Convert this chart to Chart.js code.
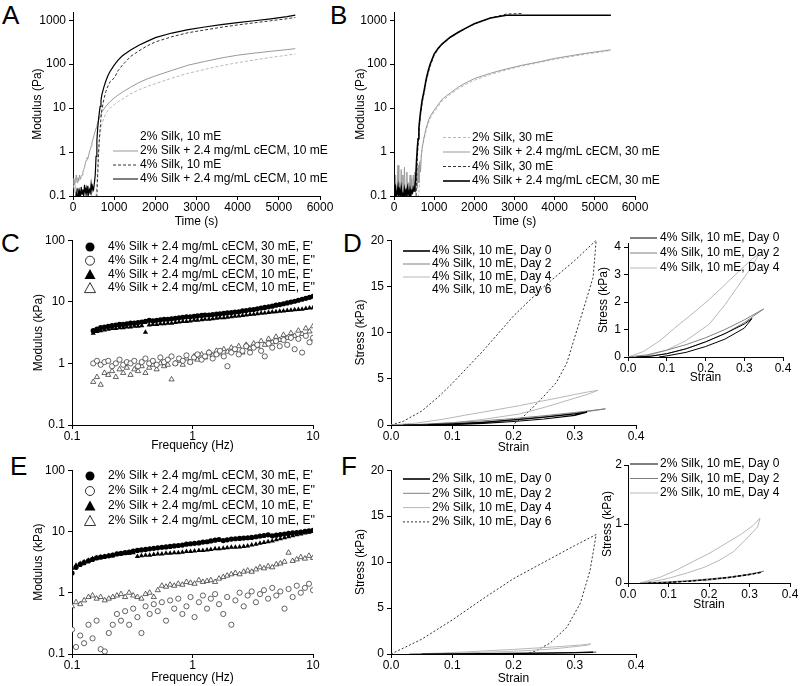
<!DOCTYPE html>
<html>
<head>
<meta charset="utf-8">
<script src="https://cdn.jsdelivr.net/npm/chart.js@4.4.1/dist/chart.umd.min.js"></script>
<style>
  body { margin: 0; background: #fff; width: 800px; height: 686px; position: relative; overflow: hidden;
         font-family: "Liberation Sans", Arial, sans-serif; }
  canvas { position: absolute; }
  .tag { position: absolute; font-size: 26px; line-height: 26px; color: #000; }
</style>
</head>
<body>
<div class="tag" style="left:2px;top:2px">A</div>
<div class="tag" style="left:330px;top:2px">B</div>
<div class="tag" style="left:1px;top:230px">C</div>
<div class="tag" style="left:343px;top:230px">D</div>
<div class="tag" style="left:10px;top:453px">E</div>
<div class="tag" style="left:341px;top:453px">F</div>

<canvas id="chartA"></canvas>
<canvas id="chartB"></canvas>
<canvas id="chartC"></canvas>
<canvas id="chartD"></canvas>
<canvas id="chartE"></canvas>
<canvas id="chartF"></canvas>
<canvas id="insetD"></canvas>
<canvas id="insetF"></canvas>

<script>
// ---- time sweeps (A, B), time in s, modulus in Pa ----
const tGrid = [0,20,40,60,80,100,120,140,160,180,200,220,240,260,280,300,320,340,360,380,400,420,440,460,480,500,520,540,560,580,600,620,640,660,680,700,
  750,800,850,900,1000,1100,1200,1400,1600,1800,2000,2400,2800,3200,3600,4000,4400,4800,5200,5400];

const aSilk2 = [0.15,0.2,0.12,0.18,0.1,0.16,0.08,0.05,0.05,0.05,0.05,0.05,0.05,0.05,0.05,0.05,0.05,0.05,0.05,0.05,0.05,0.05,0.05,0.05,0.05,0.05,0.05,0.05,
  0.1,0.2,0.5,1,1.8,2.6,3.4,4.2,
  6,7.5,9,10,12,14,16,21,26,31,36,48,62,76,92,108,124,142,160,170];
const aSilk2Ecm = [0.2,0.25,0.18,0.22,0.3,0.2,0.26,0.22,0.3,0.24,0.28,0.3,0.35,0.4,0.45,0.55,0.65,0.75,0.7,0.85,1.0,1.15,1.35,1.6,1.9,2.2,2.6,3.0,3.5,4.0,4.6,5.2,5.9,6.6,7.4,8.2,
  9.5,11,12.5,14,17,20,23,30,38,46,54,72,95,115,138,160,178,196,214,225];
const aSilk4 = [0.05,0.05,0.05,0.05,0.05,0.05,0.05,0.05,0.05,0.05,0.05,0.05,0.05,0.05,0.05,0.05,0.05,0.05,0.05,0.05,0.05,0.05,0.05,0.05,0.05,0.05,0.05,0.05,0.05,
  0.1,0.3,0.9,2,3.5,6,9,
  16,24,32,40,48,72,95,150,200,260,320,420,520,600,690,780,870,970,1080,1150];
const aSilk4Ecm = [0.06,0.07,0.06,0.08,0.12,0.09,0.15,0.1,0.13,0.09,0.16,0.11,0.14,0.1,0.18,0.12,0.15,0.1,0.17,0.11,0.14,0.12,0.19,0.13,0.16,0.14,0.2,0.3,0.8,1.8,3.5,5.5,8,11,15,20,
  30,42,55,68,95,125,155,210,270,330,400,510,610,700,790,880,970,1070,1200,1300];

const bSilk2 = [0.05,0.05,0.05,0.05,0.05,0.05,0.05,0.05,0.05,0.05,0.05,0.05,0.05,0.05,0.05,0.05,0.05,0.05,0.05,0.05,0.05,0.05,0.05,0.05,0.05,0.05,0.05,0.05,0.05,0.05,
  0.08,0.12,0.3,0.6,0.9,1.3,
  2.0,3.1,4.4,5.8,8.2,11,14.5,20.5,27.5,35,43,58,74,91,108,128,148,170,192,205];
const bSilk2Ecm = [0.12,0.08,0.3,0.1,0.15,0.5,0.12,0.2,0.1,0.4,0.12,0.3,0.11,0.45,0.1,0.15,0.35,0.1,0.2,0.12,0.3,0.1,0.25,0.12,0.3,0.15,0.35,0.12,0.4,0.15,0.5,0.2,0.6,0.35,0.8,1.2,
  2.2,3.5,5,6.5,9,12,16,22,30,38,47,62,78,95,112,135,155,178,200,212];
const bSilk4 = [0.05,0.05,0.05,0.05,0.05,0.05,0.05,0.05,0.05,0.05,0.05,0.05,0.05,0.05,0.05,0.05,0.05,0.05,0.05,0.05,0.05,0.05,0.05,0.05,0.05,0.05,0.05,0.05,
  0.2,0.7,1.5,2.8,4.5,7,10,13,
  22,40,62,90,160,220,280,400,520,660,820,1120,1380,1420,null,null,null,null,null,null];
const bSilk4Ecm = [0.18,0.1,0.14,0.09,0.12,0.16,0.1,0.13,0.11,0.15,0.1,0.12,0.09,0.14,0.11,0.13,0.1,0.15,0.12,0.1,0.14,0.11,0.13,0.12,0.15,0.13,0.17,0.25,0.6,1.2,2,3.5,5.5,8,11,15,
  25,45,70,100,170,230,290,410,530,670,830,1120,1300,1300,1300,1300,1300,1300,1300,1300];

// ---- frequency sweeps (C, E), frequency in Hz, modulus in kPa ----
const fC = [0.15,0.161,0.173,0.186,0.2,0.215,0.231,0.248,0.266,0.285,0.306,0.329,0.353,0.379,0.407,0.437,0.469,0.504,0.541,0.581,
  0.624,0.67,0.72,0.773,0.83,0.891,0.957,1.03,1.1,1.19,1.27,1.37,1.47,1.58,1.69,1.82,1.95,2.1,2.25,2.42,
  2.6,2.79,3.0,3.22,3.45,3.71,3.98,4.28,4.59,4.93,5.3,5.69,6.11,6.56,7.04,7.56,8.12,8.72,9.36,10.0];
const cStor30 = [3.4,3.6,3.8,3.9,4.0,4.1,4.2,4.3,4.3,4.4,4.5,4.5,4.6,4.7,4.8,5.0,4.9,5.0,5.1,5.2,
  5.2,5.3,5.4,5.5,5.6,5.7,5.7,5.8,5.9,6.0,6.1,6.1,6.2,6.3,6.4,6.5,6.6,6.7,6.8,6.9,
  7.1,7.2,7.4,7.5,7.7,7.9,8.1,8.3,8.5,8.8,9.0,9.3,9.6,9.9,10.2,10.6,11.0,11.4,11.8,12.3];
const cLoss30 = [1.0,1.1,0.95,1.05,1.1,0.9,1.0,1.15,0.95,1.05,1.0,1.1,0.9,1.05,1.2,1.0,1.1,0.95,1.25,1.05,
  1.15,1.3,1.0,1.2,1.1,1.35,1.05,1.25,1.4,1.15,1.3,1.5,1.2,1.4,1.6,1.3,0.9,1.5,1.7,1.4,
  1.6,1.9,1.5,1.8,2.0,1.6,1.3,2.1,1.8,2.3,1.9,2.4,2.0,2.6,1.7,2.5,1.5,2.8,2.2,2.6];
const cStor10 = [3.1,3.3,3.4,3.5,3.6,3.7,3.7,3.8,3.8,3.9,3.9,4.0,4.0,4.1,3.2,4.2,4.3,4.3,4.4,4.4,
  4.5,4.5,4.6,4.7,4.8,4.8,4.9,5.0,5.0,5.1,5.2,5.2,5.3,5.4,5.5,5.5,5.6,5.7,5.8,5.9,
  6.0,6.1,6.2,6.3,6.4,6.5,6.6,6.7,6.8,6.9,7.0,7.1,7.2,7.3,7.4,7.5,7.6,7.8,7.9,8.0];
const cLoss10 = [0.5,0.6,0.45,0.7,0.65,0.75,0.6,0.8,0.7,0.85,0.65,0.8,0.75,0.9,0.7,0.85,0.95,0.8,1.0,0.9,
  0.95,0.55,1.0,1.1,0.95,1.2,1.05,1.3,1.15,1.4,1.25,1.5,1.35,1.6,1.45,1.7,1.55,1.8,1.65,1.9,
  1.5,2.0,1.75,2.1,1.9,2.3,2.0,2.5,2.2,2.7,2.4,2.9,2.6,3.1,2.8,3.4,3.0,3.7,3.3,4.0];

const fE = [0.1,0.108,0.117,0.126,0.137,0.148,0.16,0.173,0.187,0.202,0.218,0.236,0.255,0.276,0.298,0.322,0.349,0.377,0.408,0.441,
  0.477,0.515,0.557,0.603,0.652,0.705,0.762,0.824,0.891,0.963,1.04,1.13,1.22,1.32,1.42,1.54,1.66,1.8,1.94,2.1,
  2.27,2.46,2.66,2.87,3.1,3.36,3.63,3.92,4.24,4.59,4.96,5.36,5.8,6.27,6.78,7.33,7.92,8.57,9.26,10.0];
const eStor30 = [2.1,2.6,2.9,3.1,3.3,3.5,3.7,3.8,3.9,4.0,4.1,4.3,4.4,4.5,4.6,4.8,4.9,5.0,5.1,5.2,
  5.3,5.4,5.5,5.6,5.7,5.8,5.9,6.0,6.2,6.3,6.4,6.5,6.7,6.8,7.0,7.2,7.4,7.1,7.3,7.5,
  7.6,7.7,7.8,7.9,8.0,8.2,8.4,8.6,8.8,8.5,8.7,8.9,9.1,9.3,9.5,9.6,9.8,10.0,10.2,10.4];
const eLoss30 = [0.25,0.13,0.2,0.15,0.3,0.18,0.35,0.12,0.11,0.22,0.3,0.45,0.35,0.5,0.3,0.55,0.4,0.22,0.6,0.45,
  0.65,0.5,0.7,0.35,0.75,0.55,0.8,0.45,0.6,0.85,0.4,0.7,0.9,0.55,0.8,0.95,0.65,0.45,0.85,0.3,
  0.75,1.0,0.6,0.9,1.05,0.7,0.95,1.1,0.8,1.2,0.9,1.05,0.55,1.15,0.85,1.3,1.0,1.2,1.4,1.1];
const eStor10 = [2.5,2.8,3.0,3.2,3.4,3.6,3.7,3.8,3.9,4.0,4.1,4.2,4.3,4.4,4.4,4.5,3.9,4.0,4.1,4.1,
  4.2,4.3,4.3,4.4,4.4,4.5,4.5,4.6,4.7,4.7,4.8,4.9,4.9,5.0,5.1,5.2,5.2,5.3,5.4,5.5,
  5.5,5.6,5.7,5.8,6.0,6.2,6.4,6.6,6.8,7.0,7.3,7.6,7.9,8.2,8.5,8.8,9.1,9.4,9.7,10.0];
const eLoss10 = [0.6,0.7,0.65,0.75,0.85,0.9,0.8,0.85,0.75,0.8,0.85,0.9,0.95,0.85,1.0,0.9,0.85,0.8,0.95,1.0,
  0.85,1.1,1.3,1.25,1.35,1.3,1.4,1.35,1.5,1.45,1.4,1.6,1.5,1.55,1.6,1.5,1.7,1.8,1.9,2.0,
  2.1,2.0,2.2,2.3,2.2,2.4,2.6,2.5,2.7,2.6,2.9,3.0,3.2,4.5,3.3,3.5,3.8,3.6,4.0,3.7];

// ---- compression loops (D, F), strain and stress in kPa ----
const dDay0Strain = [0.02,0.06,0.1,0.15,0.2,0.25,0.3,0.32,0.3,0.25,0.2,0.15,0.1,0.08];
const dDay0Stress = [0,0.03,0.12,0.3,0.55,0.85,1.2,1.4,1.05,0.65,0.38,0.17,0.04,0];
const dDay2Strain = [0,0.05,0.1,0.15,0.2,0.25,0.3,0.35,0.32,0.3,0.25,0.2,0.15,0.1,0.05,0.02];
const dDay2Stress = [0,0.08,0.25,0.45,0.7,1.0,1.35,1.75,1.45,1.25,0.85,0.55,0.3,0.12,0.02,0];
const dDay4Strain = [0,0.04,0.083,0.12,0.168,0.21,0.255,0.3,0.323,0.338,0.32,0.28,0.25,0.21,0.15,0.1,0.06,0.03];
const dDay4Stress = [0,0.2,0.6,1.05,1.6,2.1,2.7,3.3,3.6,3.75,3.3,2.5,1.9,1.2,0.6,0.25,0.08,0];
const dDay6Strain = [0,0.02,0.05,0.08,0.1,0.15,0.2,0.25,0.3,0.335,0.33,0.32,0.3,0.287,0.27,0.248,0.23,0.216,0.2];
const dDay6Stress = [0,0.4,1.5,3.2,4.5,8,11.8,15,17.8,20,16,13.8,9.5,6.7,4.6,3.0,1.8,0.9,0.1];

const fDay0Strain = [0.05,0.1,0.15,0.2,0.25,0.3,0.33,0.3,0.25,0.2,0.15,0.1];
const fDay0Stress = [0,0.01,0.03,0.06,0.09,0.14,0.18,0.15,0.1,0.06,0.03,0.01];
const fDay2Strain = [0.03,0.1,0.15,0.2,0.25,0.3,0.335,0.3,0.25,0.2,0.15,0.1,0.05];
const fDay2Stress = [0,0.02,0.04,0.07,0.1,0.15,0.2,0.14,0.09,0.05,0.03,0.01,0];
const fDay4Strain = [0.03,0.08,0.12,0.168,0.2,0.244,0.28,0.31,0.326,0.32,0.29,0.26,0.227,0.19,0.146,0.1,0.08,0.04];
const fDay4Stress = [0,0.1,0.22,0.39,0.5,0.68,0.83,0.98,1.1,0.95,0.73,0.53,0.39,0.27,0.17,0.08,0.05,0.01];
const fDay6Strain = [0,0.05,0.1,0.15,0.2,0.25,0.3,0.335,0.325,0.309,0.287,0.26,0.235,0.22];
const fDay6Stress = [0,1.6,3.7,6.0,8.2,10.0,11.8,13.0,9.1,5.5,2.9,1.2,0.3,0];

// ---- ticks ----
const timeTicks = [0,1000,2000,3000,4000,5000,6000];
const timeLabels = ['0','1000','2000','3000','4000','5000','6000'];
const paTicks = [0.1,1,10,100,1000];
const paLabels = ['0.1','1','10','100','1000'];
const hzTicks = [0.1,1,10];
const hzLabels = ['0.1','1','10'];
const kpaTicks = [0.1,1,10,100];
const kpaLabels = ['0.1','1','10','100'];
const strainTicks = [0,0.1,0.2,0.3,0.4];
const strainLabels = ['0.0','0.1','0.2','0.3','0.4'];
const stressTicks = [0,5,10,15,20];
const stressLabels = ['0','5','10','15','20'];
const insetDTicks = [0,1,2,3,4];
const insetDLabels = ['0','1','2','3','4'];
const insetFTicks = [0,1,2];
const insetFLabels = ['0','1','2'];

// ---- legend texts ----
const namesA = ['2% Silk, 10 mE','2% Silk + 2.4 mg/mL cECM, 10 mE','4% Silk, 10 mE','4% Silk + 2.4 mg/mL cECM, 10 mE'];
const namesB = ['2% Silk, 30 mE','2% Silk + 2.4 mg/mL cECM, 30 mE','4% Silk, 30 mE','4% Silk + 2.4 mg/mL cECM, 30 mE'];
const namesC = ["4% Silk + 2.4 mg/mL cECM, 30 mE, E'","4% Silk + 2.4 mg/mL cECM, 30 mE, E''","4% Silk + 2.4 mg/mL cECM, 10 mE, E'","4% Silk + 2.4 mg/mL cECM, 10 mE, E''"];
const namesE = ["2% Silk + 2.4 mg/mL cECM, 30 mE, E'","2% Silk + 2.4 mg/mL cECM, 30 mE, E''","2% Silk + 2.4 mg/mL cECM, 10 mE, E'","2% Silk + 2.4 mg/mL cECM, 10 mE, E''"];
const namesD = ['4% Silk, 10 mE, Day 0','4% Silk, 10 mE, Day 2','4% Silk, 10 mE, Day 4','4% Silk, 10 mE, Day 6'];
const namesF = ['2% Silk, 10 mE, Day 0','2% Silk, 10 mE, Day 2','2% Silk, 10 mE, Day 4','2% Silk, 10 mE, Day 6'];

const BLACK = '#000', DARK = '#333', GRAY = '#808080', MID = '#999', LIGHT = '#b8b8b8';
const FONT = '"Liberation Sans", Arial, sans-serif';

Chart.defaults.font.family = FONT;
Chart.defaults.font.size = 12;
Chart.defaults.color = '#000';

function pts(xs, ys) {
  const out = [];
  xs.forEach((x, i) => { if (ys[i] != null) out.push({ x: x, y: ys[i] }); });
  return out;
}

function line(xs, ys, color, width, dash) {
  return { data: pts(xs, ys), showLine: true, borderColor: color, borderWidth: width,
           borderDash: dash || [], pointRadius: 0, fill: false, tension: 0 };
}

function dots(xs, ys, style, filled) {
  return { data: pts(xs, ys), showLine: false, pointStyle: style,
           pointRadius: style === 'triangle' ? 3 : 2.6,
           backgroundColor: filled ? '#000' : '#fff', borderColor: '#222', borderWidth: filled ? 0 : 0.7 };
}

function axis(type, min, max, values, labels, title, pad) {
  return {
    type: type, min: min, max: max,
    afterBuildTicks: s => { s.ticks = values.map(v => ({ value: v })); },
    ticks: { callback: (v, i) => labels[i], autoSkip: false, maxRotation: 0, padding: pad,
             color: '#000', font: { size: 12 } },
    grid: { drawOnChartArea: false, drawTicks: true, tickLength: 4, color: '#000' },
    border: { color: '#000', width: 1 },
    title: { display: true, text: title, padding: 0, color: '#000', font: { size: 12 } }
  };
}

function drawMarker(ctx, style, filled, x, y) {
  ctx.beginPath();
  if (style === 'circle') {
    ctx.arc(x, y, 4.5, 0, Math.PI * 2);
  } else {
    ctx.moveTo(x, y - 5.5); ctx.lineTo(x + 5.5, y + 4.5); ctx.lineTo(x - 5.5, y + 4.5); ctx.closePath();
  }
  if (filled) { ctx.fillStyle = '#000'; ctx.fill(); }
  else { ctx.fillStyle = '#fff'; ctx.fill(); ctx.strokeStyle = '#000'; ctx.lineWidth = 0.8; ctx.stroke(); }
}

// legend drawn at page coordinates, shifted into the canvas
function legendPlugin(spec, ox, oy) {
  return {
    id: 'boxLegend',
    afterDraw(chart) {
      const ctx = chart.ctx;
      ctx.save();
      ctx.font = '12px ' + FONT;
      ctx.textBaseline = 'middle';
      spec.items.forEach((it, i) => {
        const y = spec.y + i * spec.dy - oy;
        if (it.color) {
          ctx.beginPath();
          ctx.strokeStyle = it.color; ctx.lineWidth = it.width || 1;
          ctx.setLineDash(it.dash || []);
          ctx.moveTo(spec.x1 - ox, y); ctx.lineTo(spec.x2 - ox, y); ctx.stroke();
          ctx.setLineDash([]);
        }
        if (it.marker) drawMarker(ctx, it.marker, it.filled, spec.mx - ox, y);
        ctx.fillStyle = '#000';
        ctx.fillText(it.text, spec.tx - ox, y);
      });
      ctx.restore();
    }
  };
}

function panel(id, area, pad, xAxis, yAxis, datasets, legend) {
  const cv = document.getElementById(id);
  const left = area.l - pad.l, top = area.t - pad.t;
  const w = area.r - area.l + pad.l + pad.r, h = area.b - area.t + pad.t + pad.b;
  cv.style.left = left + 'px'; cv.style.top = top + 'px';
  cv.width = w; cv.height = h; cv.style.width = w + 'px'; cv.style.height = h + 'px';
  xAxis.afterFit = s => { s.height = pad.b; };
  yAxis.afterFit = s => { s.width = pad.l; };
  new Chart(cv, {
    type: 'scatter',
    data: { datasets: datasets },
    options: {
      responsive: false, animation: false, events: [], devicePixelRatio: 1,
      layout: { padding: { top: pad.t, right: pad.r, left: 0, bottom: 0 } },
      plugins: { legend: { display: false }, tooltip: { enabled: false } },
      scales: { x: xAxis, y: yAxis }
    },
    plugins: [legendPlugin(legend, left, top)]
  });
}

// A
panel('chartA', { l: 73, t: 12, r: 320, b: 196 }, { l: 43, t: 10, r: 20, b: 33 },
  axis('linear', 0, 6000, timeTicks, timeLabels, 'Time (s)', 0),
  axis('logarithmic', 0.1, 1520, paTicks, paLabels, 'Modulus (Pa)', 3),
  [ line(tGrid, aSilk4Ecm, BLACK, 1.2),
    line(tGrid, aSilk4, DARK, 1, [3, 2]),
    line(tGrid, aSilk2Ecm, MID, 1),
    line(tGrid, aSilk2, LIGHT, 1, [3, 2]) ],
  { x1: 113, x2: 138, tx: 140, y: 137, dy: 14, items: [
    { text: namesA[0] },
    { text: namesA[1], color: MID },
    { text: namesA[2], color: DARK, dash: [3, 2] },
    { text: namesA[3], color: BLACK } ] });

// B
panel('chartB', { l: 394, t: 12, r: 635, b: 196 }, { l: 41, t: 10, r: 45, b: 33 },
  axis('linear', 0, 6000, timeTicks, timeLabels, 'Time (s)', 0),
  axis('logarithmic', 0.1, 1520, paTicks, paLabels, 'Modulus (Pa)', 3),
  [ line(tGrid, bSilk4Ecm, BLACK, 1.6),
    line(tGrid, bSilk4, DARK, 1, [3, 2]),
    line(tGrid, bSilk2Ecm, MID, 1),
    line(tGrid, bSilk2, LIGHT, 1, [3, 2]) ],
  { x1: 443, x2: 470, tx: 472, y: 137.5, dy: 14.5, items: [
    { text: namesB[0], color: LIGHT, dash: [3, 2] },
    { text: namesB[1], color: MID },
    { text: namesB[2], color: DARK, dash: [3, 2] },
    { text: namesB[3], color: BLACK, width: 1.6 } ] });

// C
panel('chartC', { l: 72, t: 240, r: 313, b: 425 }, { l: 41, t: 10, r: 20, b: 28 },
  axis('logarithmic', 0.1, 10, hzTicks, hzLabels, 'Frequency (Hz)', 0),
  axis('logarithmic', 0.1, 100, kpaTicks, kpaLabels, 'Modulus (kPa)', 3),
  [ dots(fC, cStor30, 'circle', true),
    dots(fC, cStor10, 'triangle', true),
    dots(fC, cLoss30, 'circle', false),
    dots(fC, cLoss10, 'triangle', false) ],
  { mx: 90, tx: 108, y: 247, dy: 13.7, items: [
    { text: namesC[0], marker: 'circle', filled: true },
    { text: namesC[1], marker: 'circle', filled: false },
    { text: namesC[2], marker: 'triangle', filled: true },
    { text: namesC[3], marker: 'triangle', filled: false } ] });

// D
panel('chartD', { l: 391, t: 240, r: 636, b: 425 }, { l: 38, t: 10, r: 20, b: 30 },
  axis('linear', 0, 0.4, strainTicks, strainLabels, 'Strain', 0),
  axis('linear', 0, 20, stressTicks, stressLabels, 'Stress (kPa)', 3),
  [ line(dDay0Strain, dDay0Stress, BLACK, 1.2),
    line(dDay2Strain, dDay2Stress, GRAY, 1),
    line(dDay4Strain, dDay4Stress, LIGHT, 1),
    line(dDay6Strain, dDay6Stress, DARK, 1, [2, 2]) ],
  { x1: 403, x2: 430, tx: 432, y: 251, dy: 13, items: [
    { text: namesD[0], color: BLACK, width: 1.6 },
    { text: namesD[1], color: GRAY },
    { text: namesD[2], color: LIGHT },
    { text: namesD[3] } ] });

// E
panel('chartE', { l: 72, t: 470, r: 313, b: 654 }, { l: 41, t: 10, r: 20, b: 31 },
  axis('logarithmic', 0.1, 10, hzTicks, hzLabels, 'Frequency (Hz)', 0),
  axis('logarithmic', 0.1, 100, kpaTicks, kpaLabels, 'Modulus (kPa)', 3),
  [ dots(fE, eStor30, 'circle', true),
    dots(fE, eStor10, 'triangle', true),
    dots(fE, eLoss30, 'circle', false),
    dots(fE, eLoss10, 'triangle', false) ],
  { mx: 90, tx: 108, y: 476, dy: 15, items: [
    { text: namesE[0], marker: 'circle', filled: true },
    { text: namesE[1], marker: 'circle', filled: false },
    { text: namesE[2], marker: 'triangle', filled: true },
    { text: namesE[3], marker: 'triangle', filled: false } ] });

// F
panel('chartF', { l: 391, t: 470, r: 636, b: 654 }, { l: 38, t: 10, r: 20, b: 32 },
  axis('linear', 0, 0.4, strainTicks, strainLabels, 'Strain', 0),
  axis('linear', 0, 20, stressTicks, stressLabels, 'Stress (kPa)', 3),
  [ line(fDay0Strain, fDay0Stress, BLACK, 1.2),
    line(fDay2Strain, fDay2Stress, GRAY, 1),
    line(fDay4Strain, fDay4Stress, LIGHT, 1),
    line(fDay6Strain, fDay6Stress, DARK, 1, [2, 2]) ],
  { x1: 403, x2: 430, tx: 432, y: 479, dy: 14.3, items: [
    { text: namesF[0], color: BLACK, width: 1.6 },
    { text: namesF[1], color: GRAY },
    { text: namesF[2], color: LIGHT },
    { text: namesF[3], color: DARK, dash: [2, 2] } ] });

// D inset
panel('insetD', { l: 628, t: 243, r: 783, b: 357 }, { l: 32, t: 14, r: 12, b: 28 },
  axis('linear', 0, 0.4, strainTicks, strainLabels, 'Strain', 0),
  axis('linear', 0, 4.15, insetDTicks, insetDLabels, 'Stress (kPa)', 3),
  [ line(dDay0Strain, dDay0Stress, BLACK, 1),
    line(dDay2Strain, dDay2Stress, GRAY, 1),
    line(dDay4Strain, dDay4Stress, LIGHT, 1) ],
  { x1: 630, x2: 657, tx: 660, y: 238, dy: 15, items: [
    { text: namesD[0], color: BLACK },
    { text: namesD[1], color: GRAY },
    { text: namesD[2], color: LIGHT } ] });

// F inset
panel('insetF', { l: 628, t: 465, r: 790, b: 583 }, { l: 28, t: 16, r: 10, b: 29 },
  axis('linear', 0, 0.4, strainTicks, strainLabels, 'Strain', 0),
  axis('linear', 0, 2, insetFTicks, insetFLabels, 'Stress (kPa)', 2),
  [ line(fDay0Strain, fDay0Stress, BLACK, 1, [3, 2]),
    line(fDay2Strain, fDay2Stress, GRAY, 1),
    line(fDay4Strain, fDay4Stress, LIGHT, 1) ],
  { x1: 630, x2: 658, tx: 660, y: 464, dy: 14.5, items: [
    { text: namesF[0], color: BLACK },
    { text: namesF[1], color: GRAY },
    { text: namesF[2], color: LIGHT } ] });
</script>
</body>
</html>
